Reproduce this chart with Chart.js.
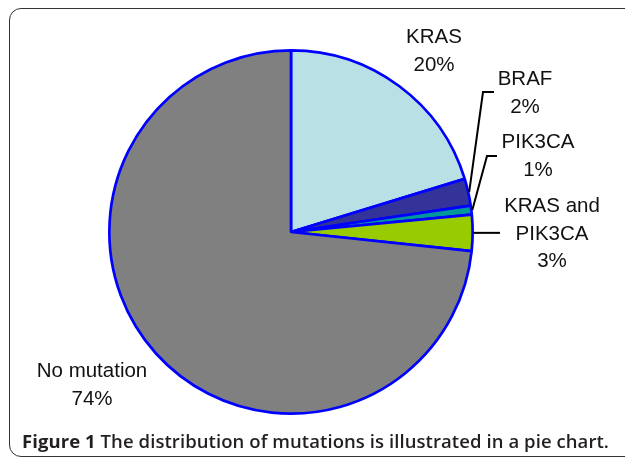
<!DOCTYPE html>
<html>
<head>
<meta charset="utf-8">
<script src="https://cdn.jsdelivr.net/npm/chart.js@4"></script>
<style>
  html, body { margin: 0; padding: 0; background: #fff; }
  #wrap { position: relative; width: 625px; height: 460px; overflow: hidden; }
  #frame {
    position: absolute; left: 9px; top: 8px; width: 640px; height: 449px;
    border: 1.6px solid #333; border-radius: 12px; box-sizing: border-box;
  }
  #pie { position: absolute; left: 0; top: 0; }
  #caption {
    position: absolute; left: 22px; top: 428px; white-space: nowrap;
    font-family: "Open Sans", sans-serif; font-weight: 600; font-size: 18.5px;
    color: #231f20;
  }
  #caption b { font-weight: 700; }
</style>
</head>
<body>
<div id="wrap">
  <div id="frame"></div>
  <canvas id="pie" width="625" height="460"></canvas>
  <div id="caption"><b>Figure 1</b> The distribution of mutations is illustrated in a pie chart.</div>
</div>
<script>
// data
const categories = ['KRAS', 'BRAF', 'PIK3CA', 'KRAS and PIK3CA', 'No mutation'];
const shares = [20.3, 2.4, 0.8, 3.2, 73.4];
const pctLabels = ['20%', '2%', '1%', '3%', '74%'];
const sliceColors = ['#b9e0e5', '#333399', '#009999', '#99cc00', '#808080'];

// label layout: text lines, centre x, first baseline, optional leader elbow
const labelLayout = [
    { lines: ['KRAS'], x: 434, y: 43 },
    { lines: ['BRAF'], x: 525, y: 85, elbow: [483, 92], end: 494 },
    { lines: ['PIK3CA'], x: 538, y: 148, elbow: [487, 156], end: 497 },
    { lines: ['KRAS and', 'PIK3CA'], x: 552, y: 212, elbow: null, end: 500 },
    { lines: ['No mutation'], x: 92, y: 377 }
];

const pieLabels = {
    id: 'pieLabels',
    afterDraw(chart) {
        const ctx = chart.ctx;
        const arcs = chart.getDatasetMeta(0).data;
        ctx.save();
        ctx.font = '20.5px "Liberation Sans", Arial, sans-serif';
        ctx.fillStyle = '#111';
        ctx.textAlign = 'center';
        ctx.textBaseline = 'alphabetic';
        labelLayout.forEach((lab, i) => {
            const lines = lab.lines.concat([pctLabels[i]]);
            lines.forEach((t, k) => ctx.fillText(t, lab.x, lab.y + k * 27.5));

            if (lab.end) {
                const a = arcs[i];
                const mid = (a.startAngle + a.endAngle) / 2;
                const sx = a.x + Math.cos(mid) * (a.outerRadius + 1);
                const sy = a.y + Math.sin(mid) * (a.outerRadius + 1);
                ctx.strokeStyle = '#000';
                ctx.lineWidth = 2;
                ctx.beginPath();
                ctx.moveTo(sx, sy);
                if (lab.elbow) {
                    ctx.lineTo(lab.elbow[0], lab.elbow[1]);
                    ctx.lineTo(lab.end, lab.elbow[1]);
                } else {
                    ctx.lineTo(lab.end, sy);
                }
                ctx.stroke();
            }
        });
        ctx.restore();
    }
};

new Chart(document.getElementById('pie'), {
    type: 'pie',
    data: {
        labels: categories,
        datasets: [{
            data: shares,
            backgroundColor: sliceColors,
            borderColor: '#0000ff',
            borderWidth: 2.7
        }]
    },
    options: {
        responsive: false,
        animation: false,
        layout: { padding: { left: 108, right: 151, top: 49, bottom: 45 } },
        plugins: {
            legend: { display: false },
            tooltip: { enabled: false }
        }
    },
    plugins: [pieLabels]
});

// squeeze caption to the reference width
const cap = document.getElementById('caption');
const want = 587;
const have = cap.getBoundingClientRect().width;
const n = cap.textContent.length;
cap.style.letterSpacing = ((want - have) / n) + 'px';
</script>
</body>
</html>
